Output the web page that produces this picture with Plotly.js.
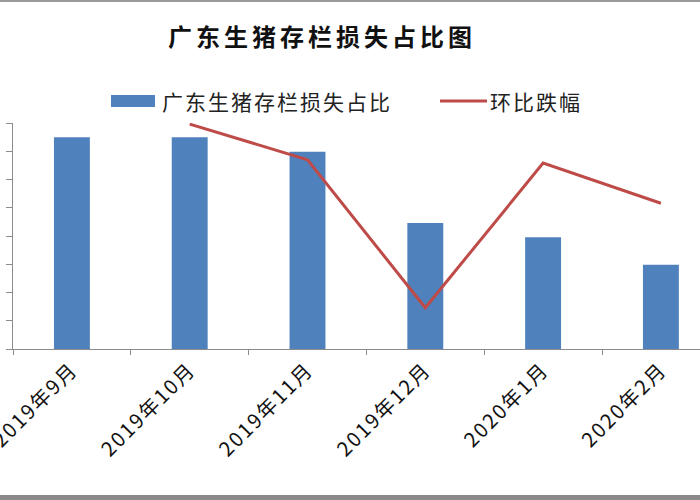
<!DOCTYPE html>
<html>
<head>
<meta charset="utf-8">
<script src="https://cdn.plot.ly/plotly-3.0.1.min.js"></script>
<style>
html,body{margin:0;padding:0;background:#fff;}
#chart{width:700px;height:500px;}
#chart .gtitle{letter-spacing:4px;}
#chart .annotation-text{letter-spacing:2px;}
#chart .xtick text{letter-spacing:2px;}
</style>
</head>
<body>
<div id="chart"></div>
<script>
const categories = ['2019年9月', '2019年10月', '2019年11月', '2019年12月', '2020年1月', '2020年2月'];
const lossShare = [37.5, 37.5, 34.9, 22.3, 19.8, 14.9];
const momDecline = [null, 39.8, 33.5, 7.3, 32.9, 25.8];
const barName = '广东生猪存栏损失占比';
const lineName = '环比跌幅';
const chartTitle = '广东生猪存栏损失占比图';

const W = 700, H = 500, L = 13, R = 0, T = 123, B = 151;
const pw = W - L - R, ph = H - T - B;
const px = x => (x - L) / pw;
const py = y => (H - B - y) / ph;

const font = '"Noto Sans CJK SC", "Noto Sans", sans-serif';
const barColor = '#4F81BD';
const lineColor = '#BE4B48';

const data = [
  {type: 'bar', x: categories, y: lossShare, name: barName, marker: {color: barColor}, yaxis: 'y', showlegend: false, hoverinfo: 'x+y'},
  {type: 'scatter', mode: 'lines', x: categories, y: momDecline, name: lineName, yaxis: 'y2', line: {color: lineColor, width: 3}, connectgaps: false, showlegend: false}
];

const layout = {
  width: W, height: H,
  margin: {l: L, r: R, t: T, b: B, pad: 0},
  paper_bgcolor: '#ffffff', plot_bgcolor: '#ffffff',
  font: {family: font, color: '#000'},
  title: {text: chartTitle, font: {family: font, size: 24, color: '#111', weight: 'bold'}, xref: 'container', yref: 'container', x: 322 / W, xanchor: 'center', y: 1 - 38 / H, yanchor: 'middle'},
  bargap: 0.695,
  xaxis: {
    type: 'category', range: [-0.5, -0.5 + pw / 117.8],
    showline: true, linecolor: '#8c8c8c', linewidth: 1,
    ticks: 'outside', tickson: 'boundaries', ticklen: 5, tickcolor: '#8c8c8c',
    tickangle: -45, tickfont: {family: font, size: 20, color: '#111'},
    showgrid: false, zeroline: false, fixedrange: true
  },
  yaxis: {
    range: [0, 40], dtick: 5, showline: true, linecolor: '#8c8c8c', linewidth: 1,
    ticks: 'outside', ticklen: 6, tickcolor: '#8c8c8c', showticklabels: false,
    showgrid: false, zeroline: false, fixedrange: true
  },
  yaxis2: {range: [0, 40], overlaying: 'y', side: 'right', visible: false, showgrid: false, zeroline: false},
  shapes: [
    {type: 'rect', xref: 'paper', yref: 'paper', x0: px(111), x1: px(155), y0: py(107), y1: py(95), fillcolor: barColor, line: {width: 0}},
    {type: 'line', xref: 'paper', yref: 'paper', x0: px(440), x1: px(487), y0: py(101), y1: py(101), line: {color: lineColor, width: 3}},
    {type: 'rect', xref: 'paper', yref: 'paper', x0: px(0), x1: px(700), y0: py(2), y1: py(0), fillcolor: '#9a9a9a', line: {width: 0}},
    {type: 'rect', xref: 'paper', yref: 'paper', x0: px(0), x1: px(700), y0: py(500), y1: py(495), fillcolor: '#8a8a8a', line: {width: 0}}
  ],
  annotations: [
    {xref: 'paper', yref: 'paper', x: px(170), y: py(101), xanchor: 'left', yanchor: 'middle', text: barName, showarrow: false, font: {family: font, size: 21, color: '#222'}},
    {xref: 'paper', yref: 'paper', x: px(492), y: py(101), xanchor: 'left', yanchor: 'middle', text: lineName, showarrow: false, font: {family: font, size: 21, color: '#222'}}
  ]
};

Plotly.newPlot('chart', data, layout, {displayModeBar: false, staticPlot: true});
</script>
</body>
</html>
